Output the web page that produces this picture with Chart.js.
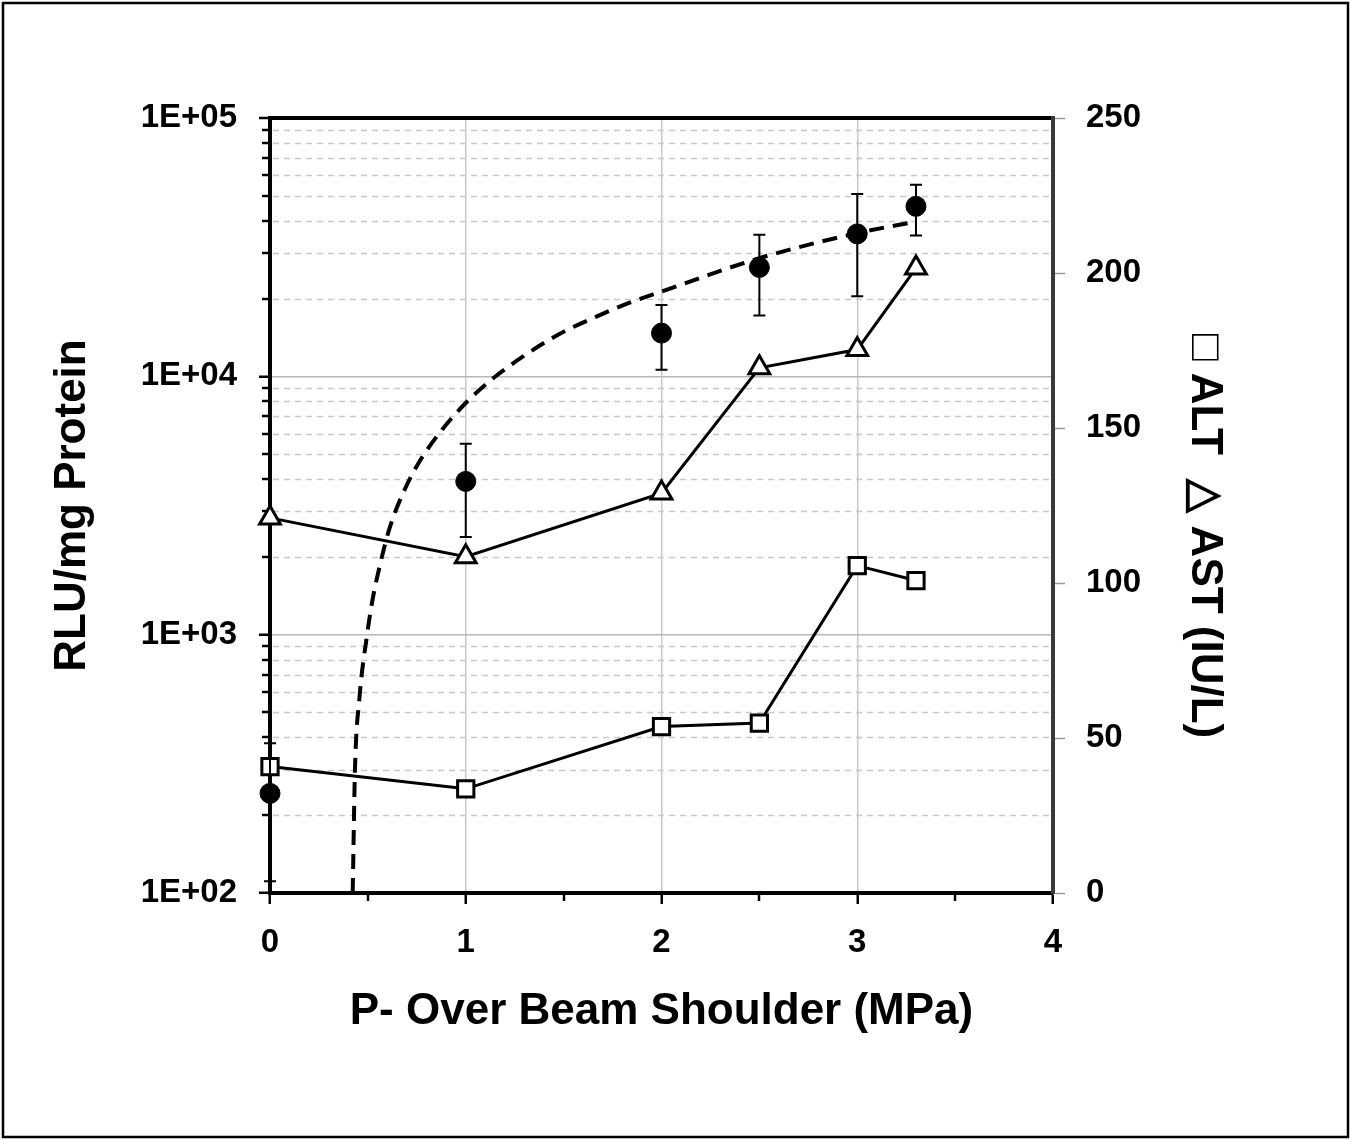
<!DOCTYPE html>
<html>
<head>
<meta charset="utf-8">
<title>RLU and liver enzymes vs pressure</title>
<script src="https://cdn.jsdelivr.net/npm/chart.js@4.4.1/dist/chart.umd.min.js"></script>
<style>
  body { margin: 0; background: #fff; }
  canvas { display: block; }
</style>
</head>
<body>
<canvas id="chart" width="1351" height="1140"></canvas>
<script>
// pressure over beam shoulder (MPa)
const pressures = [0, 1, 2, 2.5, 3, 3.3];

// luciferase expression, RLU/mg protein (mean and ends of the error bars)
const rluMean = [243, 3920, 14700, 26400, 35600, 45500];
const rluHigh = [380, 5480, 18900, 35300, 50800, 55200];
const rluLow = [111, 2390, 10600, 17200, 20400, 35100];

// dashed trend curve
const trendX = [0.4225, 0.434, 0.456, 0.496, 0.521, 0.562, 0.613, 0.69, 0.766, 0.879, 0.996, 1.124, 1.293, 1.481, 1.67, 1.824, 2.003, 2.503, 3.004, 3.3];
const trendY = [100, 299, 559, 1000, 1328, 1864, 2616, 3670, 4711, 6212, 7831, 9616, 11940, 14620, 17060, 19100, 21330, 28720, 35890, 39700];

// liver enzymes (IU/L)
const altValues = [40.8, 33.6, 53.7, 54.8, 105.6, 100.8];
const astValues = [121, 108.5, 129, 169.4, 175.3, 201.6];

// ticks
const rluDecades = [100, 1000, 10000, 100000];
const rluDecadeLabels = ['1E+02', '1E+03', '1E+04', '1E+05'];
const pressureTicks = [0, 1, 2, 3, 4];
const enzymeTicks = [0, 50, 100, 150, 200, 250];

const FONT = 'Arial, "Liberation Sans", sans-serif';
Chart.defaults.font.family = FONT;
Chart.defaults.color = '#000';

function isDecade(v) {
  return rluDecades.indexOf(v) >= 0;
}

// dashed minor grid lines and short minor tick marks
const minorMarks = {
  id: 'minorMarks',
  beforeDatasetsDraw(chart) {
    const ctx = chart.ctx;
    const area = chart.chartArea;
    const y = chart.scales.y;
    const x = chart.scales.x;
    ctx.save();
    ctx.strokeStyle = '#c8c8c8';
    ctx.lineWidth = 1.5;
    ctx.setLineDash([6, 5]);
    y.ticks.forEach(function (t) {
      if (isDecade(t.value)) return;
      const py = Math.round(y.getPixelForValue(t.value)) + 0.5;
      ctx.beginPath();
      ctx.moveTo(area.left + 3, py);
      ctx.lineTo(area.right - 3, py);
      ctx.stroke();
    });
    ctx.setLineDash([]);
    ctx.strokeStyle = '#000';
    ctx.lineWidth = 2.5;
    y.ticks.forEach(function (t) {
      if (isDecade(t.value)) return;
      const py = Math.round(y.getPixelForValue(t.value));
      ctx.beginPath();
      ctx.moveTo(area.left - 8, py);
      ctx.lineTo(area.left, py);
      ctx.stroke();
    });
    x.ticks.forEach(function (t) {
      if (pressureTicks.indexOf(t.value) >= 0) return;
      const px = Math.round(x.getPixelForValue(t.value));
      ctx.beginPath();
      ctx.moveTo(px, area.bottom);
      ctx.lineTo(px, area.bottom + 8);
      ctx.stroke();
    });
    ctx.restore();
  }
};

// error bars on the RLU points
const errorBars = {
  id: 'errorBars',
  afterDatasetsDraw(chart) {
    const ctx = chart.ctx;
    const x = chart.scales.x;
    const y = chart.scales.y;
    ctx.save();
    ctx.strokeStyle = '#000';
    ctx.lineWidth = 2;
    pressures.forEach(function (p, i) {
      const px = x.getPixelForValue(p);
      const top = y.getPixelForValue(rluHigh[i]);
      const bot = y.getPixelForValue(rluLow[i]);
      ctx.beginPath();
      ctx.moveTo(px, top); ctx.lineTo(px, bot);
      ctx.moveTo(px - 6, top); ctx.lineTo(px + 6, top);
      ctx.moveTo(px - 6, bot); ctx.lineTo(px + 6, bot);
      ctx.stroke();
    });
    ctx.restore();
  }
};

// frame round the whole picture
const outerFrame = {
  id: 'outerFrame',
  afterDraw(chart) {
    const ctx = chart.ctx;
    ctx.save();
    ctx.strokeStyle = '#000';
    ctx.lineWidth = 2.5;
    ctx.strokeRect(3, 3, chart.width - 6, chart.height - 6);
    ctx.restore();
  }
};

const ctx = document.getElementById('chart').getContext('2d');
const chart = new Chart(ctx, {
  type: 'line',
  data: {
    datasets: [{
      label: 'RLU/mg Protein',
      data: pressures.map((p, i) => ({ x: p, y: rluMean[i] })),
      yAxisID: 'y',
      showLine: false,
      pointStyle: 'circle',
      pointRadius: 10,
      pointBackgroundColor: '#000',
      pointBorderColor: '#000',
      pointBorderWidth: 1,
      clip: false
    }, {
      label: 'ALT',
      data: pressures.map((p, i) => ({ x: p, y: altValues[i] })),
      yAxisID: 'y2',
      borderColor: '#000',
      borderWidth: 3,
      pointStyle: 'rect',
      pointRadius: 11.5,
      pointBackgroundColor: '#fff',
      pointBorderColor: '#000',
      pointBorderWidth: 3,
      clip: false
    }, {
      label: 'AST',
      data: pressures.map((p, i) => ({ x: p, y: astValues[i] })),
      yAxisID: 'y2',
      borderColor: '#000',
      borderWidth: 3,
      pointStyle: 'triangle',
      pointRadius: 12,
      pointBackgroundColor: '#fff',
      pointBorderColor: '#000',
      pointBorderWidth: 3,
      clip: false
    }, {
      label: 'trend',
      data: trendX.map((v, i) => ({ x: v, y: trendY[i] })),
      yAxisID: 'y',
      borderColor: '#000',
      borderWidth: 4,
      borderDash: [15, 9],
      pointRadius: 0,
      cubicInterpolationMode: 'monotone',
      fill: false
    }]
  },
  options: {
    responsive: false,
    animation: false,
    events: [],
    layout: { padding: { top: 118, right: 0, bottom: 0, left: 0 } },
    plugins: {
      legend: { display: false },
      tooltip: { enabled: false }
    },
    scales: {
      x: {
        type: 'linear',
        min: 0,
        max: 4,
        afterFit: function (scale) { scale.height = 247; },
        ticks: {
          stepSize: 0.5,
          autoSkip: false,
          maxRotation: 0,
          padding: 19,
          font: { size: 33, weight: 'bold' },
          callback: function (v) { return pressureTicks.indexOf(v) >= 0 ? String(v) : ''; }
        },
        grid: {
          color: function (c) {
            const v = c.tick ? c.tick.value : -1;
            return (v === 1 || v === 2 || v === 3) ? '#c8c8c8' : 'rgba(0,0,0,0)';
          },
          lineWidth: 1.5,
          tickLength: 11,
          tickWidth: 2.5,
          tickColor: function (c) {
            return c.tick && pressureTicks.indexOf(c.tick.value) >= 0 ? '#000' : 'rgba(0,0,0,0)';
          }
        },
        border: { color: '#000', width: 4 },
        title: {
          display: true,
          text: 'P- Over Beam Shoulder (MPa)',
          font: { size: 44, weight: 'bold' },
          padding: { top: 0, bottom: 102 }
        }
      },
      y: {
        type: 'logarithmic',
        position: 'left',
        min: 100,
        max: 100000,
        afterFit: function (scale) { scale.width = 270; },
        afterBuildTicks: function (scale) {
          const ticks = [];
          rluDecades.forEach(function (d, i) {
            ticks.push({ value: d, major: true });
            if (i < rluDecades.length - 1) {
              for (let m = 2; m <= 9; m++) ticks.push({ value: d * m, major: false });
            }
          });
          scale.ticks = ticks;
        },
        ticks: {
          autoSkip: false,
          padding: 22,
          font: { size: 33, weight: 'bold' },
          callback: function (v) {
            const i = rluDecades.indexOf(v);
            return i >= 0 ? rluDecadeLabels[i] : '';
          }
        },
        grid: {
          color: function (c) {
            if (!c.tick) return 'rgba(0,0,0,0)';
            const v = c.tick.value;
            if (v === 100000) return '#000';
            if (v === 1000 || v === 10000) return '#b8b8b8';
            return 'rgba(0,0,0,0)';
          },
          lineWidth: function (c) {
            return c.tick && c.tick.value === 100000 ? 4 : 1.5;
          },
          tickLength: 11,
          tickWidth: 2.5,
          tickColor: function (c) {
            return c.tick && isDecade(c.tick.value) ? '#000' : 'rgba(0,0,0,0)';
          }
        },
        border: { color: '#000', width: 4 },
        title: {
          display: true,
          text: 'RLU/mg Protein',
          font: { size: 44, weight: 'bold' },
          padding: { top: 46, bottom: 0 }
        }
      },
      y2: {
        type: 'linear',
        position: 'right',
        min: 0,
        max: 250,
        afterFit: function (scale) { scale.width = 298; },
        afterBuildTicks: function (scale) {
          scale.ticks = enzymeTicks.map(function (v) { return { value: v }; });
        },
        ticks: {
          autoSkip: false,
          padding: 21,
          font: { size: 33, weight: 'bold' }
        },
        grid: {
          drawOnChartArea: false,
          tickLength: 12,
          tickWidth: 1.5,
          tickColor: '#9a9a9a'
        },
        border: { color: '#3a3a3a', width: 4 },
        title: {
          display: true,
          text: '     \u25A1 ALT  \u25B3 AST (IU/L)',
          font: { size: 44, weight: 'bold' },
          padding: { top: 120, bottom: 0 }
        }
      }
    }
  },
  plugins: [minorMarks, errorBars, outerFrame]
});
</script>
</body>
</html>
